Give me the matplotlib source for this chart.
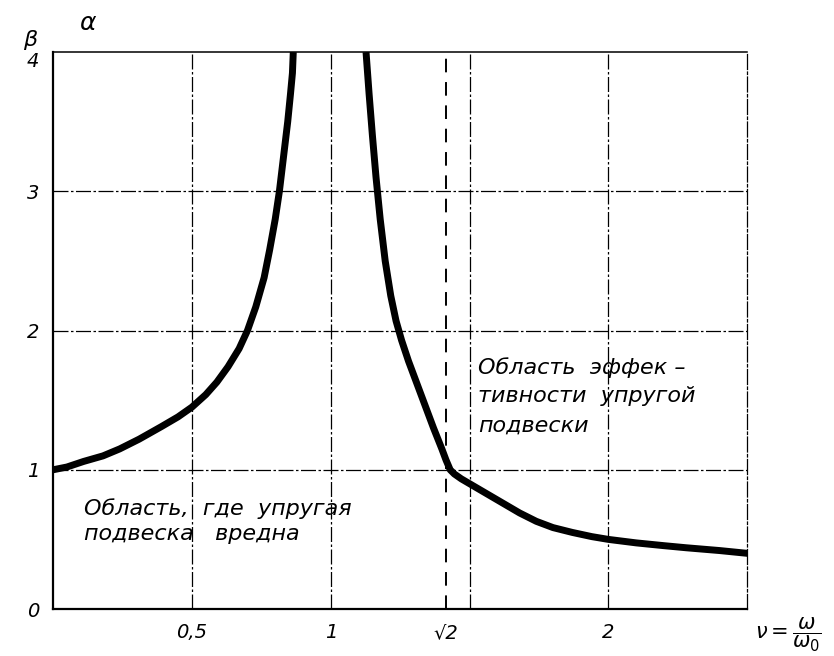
import numpy as np
import matplotlib.pyplot as plt

# values (nu = omega/omega0, alpha)
nu_left = [0.0, 0.05, 0.11, 0.18, 0.24, 0.31, 0.39, 0.45, 0.50, 0.55, 0.59, 0.63,
           0.67, 0.70, 0.73, 0.76, 0.78, 0.80, 0.815, 0.83, 0.845, 0.855, 0.862, 0.865]
alpha_left = [1.00, 1.02, 1.06, 1.10, 1.15, 1.22, 1.31, 1.38, 1.45, 1.54, 1.63, 1.74,
              1.87, 2.00, 2.17, 2.38, 2.58, 2.80, 3.00, 3.25, 3.50, 3.70, 3.85, 4.00]

nu_right = [1.127, 1.138, 1.150, 1.163, 1.178, 1.196, 1.216, 1.235, 1.255, 1.28, 1.31,
            1.34, 1.37, 1.40, 1.415, 1.43, 1.445, 1.47, 1.50, 1.56, 1.62, 1.68, 1.74,
            1.80, 1.87, 1.94, 2.00, 2.10, 2.20, 2.28, 2.40, 2.50]
alpha_right = [4.00, 3.70, 3.40, 3.10, 2.80, 2.50, 2.25, 2.07, 1.93, 1.78, 1.62,
               1.46, 1.30, 1.15, 1.07, 1.00, 0.97, 0.935, 0.90, 0.83, 0.76, 0.69, 0.63,
               0.585, 0.55, 0.52, 0.50, 0.475, 0.455, 0.44, 0.42, 0.40]

x_ticks = [0.5, 1.0, np.sqrt(2), 2.0]
x_tick_labels = ["0,5", "1", "√2", "2"]
y_ticks = [0, 1, 2, 3, 4]
y_tick_labels = ["0", "1", "2", "3", "4"]
grid_x = [0.5, 1.0, 1.5, 2.0]
grid_y = [1, 2, 3]

fig = plt.figure(figsize=(8.34, 6.56), dpi=100)
ax = fig.add_axes([0.0636, 0.0716, 0.8325, 0.8490])

grid_style = dict(color="black", linewidth=0.9, linestyle=(0, (12, 2, 2, 2)))
for gx in grid_x:
    ax.axvline(gx, **grid_style)
for gy in grid_y:
    ax.axhline(gy, **grid_style)
ax.axvline(np.sqrt(2), color="black", linewidth=1.4, linestyle=(0, (7, 5)))

ax.plot(nu_left, alpha_left, color="black", linewidth=5, solid_capstyle="butt",
        solid_joinstyle="round")
ax.plot(nu_right, alpha_right, color="black", linewidth=5, solid_capstyle="butt",
        solid_joinstyle="round")

ax.set_xlim(0, 2.5)
ax.set_ylim(0, 4)
ax.set_xticks(x_ticks)
ax.set_xticklabels(x_tick_labels, fontsize=14, style="italic")
ax.set_yticks(y_ticks)
ax.set_yticklabels(y_tick_labels, fontsize=14, style="italic")
ax.tick_params(length=0, pad=10)
ax.get_yticklabels()[-1].set_verticalalignment("top")

for side in ["left", "bottom"]:
    ax.spines[side].set_linewidth(1.6)
ax.spines["top"].set_linewidth(1.1)
ax.spines["right"].set_linewidth(0.9)
ax.spines["right"].set_linestyle((0, (12, 2, 2, 2)))

ax.text(1.53, 1.53, "Область  эффек –\nтивности  упругой\nподвески", fontsize=16,
        style="italic", ha="left", va="center", linespacing=1.55)
ax.text(0.11, 0.63, "Область,  где  упругая\nподвеска   вредна", fontsize=16,
        style="italic", ha="left", va="center", linespacing=1.3)

fig.text(0.027, 0.93, "β", fontsize=16, style="italic")
fig.text(0.095, 0.955, "α", fontsize=18, style="italic")
fig.text(0.905, 0.025, r"$\nu=\dfrac{\omega}{\omega_0}$", fontsize=15)

fig.savefig("out.png", dpi=100)
